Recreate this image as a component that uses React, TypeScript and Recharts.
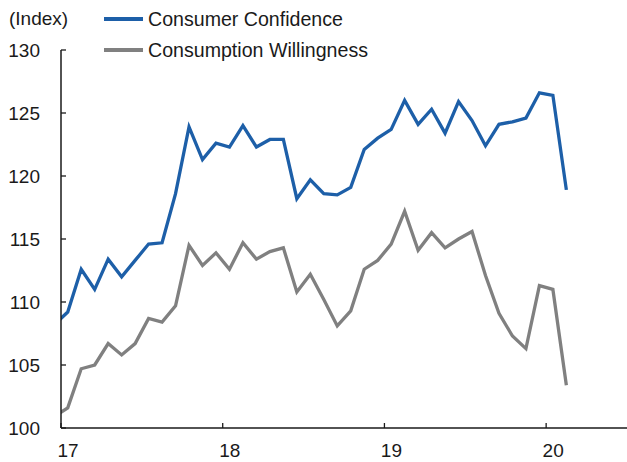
import { LineChart, Line, XAxis, YAxis, Legend } from "recharts";

const months = [
  "2016-12",
  "2017-01", "2017-02", "2017-03", "2017-04", "2017-05", "2017-06",
  "2017-07", "2017-08", "2017-09", "2017-10", "2017-11", "2017-12",
  "2018-01", "2018-02", "2018-03", "2018-04", "2018-05", "2018-06",
  "2018-07", "2018-08", "2018-09", "2018-10", "2018-11", "2018-12",
  "2019-01", "2019-02", "2019-03", "2019-04", "2019-05", "2019-06",
  "2019-07", "2019-08", "2019-09", "2019-10", "2019-11", "2019-12",
  "2020-01", "2020-02",
];

const consumerConfidence = [
  108.2,
  109.2, 112.6, 111.0, 113.4, 112.0, 113.3, 114.6, 114.7, 118.6, 123.9, 121.3, 122.6,
  122.3, 124.0, 122.3, 122.9, 122.9, 118.2, 119.7, 118.6, 118.5, 119.1, 122.1, 123.0,
  123.7, 126.0, 124.1, 125.3, 123.4, 125.9, 124.4, 122.4, 124.1, 124.3, 124.6, 126.6,
  126.4, 118.9,
];

const consumptionWillingness = [
  100.9,
  101.6, 104.7, 105.0, 106.7, 105.8, 106.7, 108.7, 108.4, 109.7, 114.5, 112.9, 113.9,
  112.6, 114.7, 113.4, 114.0, 114.3, 110.8, 112.2, 110.2, 108.1, 109.3, 112.6, 113.3,
  114.6, 117.2, 114.1, 115.5, 114.3, 115.0, 115.6, 112.1, 109.1, 107.3, 106.3, 111.3,
  111.0, 103.4,
];

const yearTicks = [17, 18, 19, 20];
const valueTicks = [100, 105, 110, 115, 120, 125, 130];

const seriesNames = ["Consumer Confidence", "Consumption Willingness"];
const seriesColors = ["#1d5fa8", "#808080"];

// x position: two-digit year + mid-month fraction
const data = months.map((m, i) => {
  const [y, mo] = m.split("-").map(Number);
  return {
    t: (y - 2000) + (mo - 0.5) / 12,
    cc: consumerConfidence[i],
    cw: consumptionWillingness[i],
  };
});

const FONT = "'Liberation Sans', Arial, sans-serif";
const INK = "#1a1a1a";

const YTick = (props: any) => {
  const { x, y, payload } = props;
  return (
    <g>
      <line x1={x} x2={x + 5} y1={y} y2={y} stroke={INK} strokeWidth={1.3} />
      <text x={x - 21} y={y + 7} textAnchor="end" fontSize={19} fontFamily={FONT} fill={INK}>
        {payload.value}
      </text>
    </g>
  );
};

const XTick = (props: any) => {
  const { x, y, payload } = props;
  return (
    <g>
      <line x1={x} x2={x} y1={y - 5} y2={y} stroke={INK} strokeWidth={1.3} />
      <text x={x + 7} y={y + 29} textAnchor="middle" fontSize={19} fontFamily={FONT} fill={INK}>
        {payload.value}
      </text>
    </g>
  );
};

const LegendBox = () => (
  <div style={{ position: "relative", width: 627, height: 70, fontFamily: FONT, fontSize: 19, color: INK }}>
    <span style={{ position: "absolute", left: 9, top: 8, lineHeight: "22px" }}>(Index)</span>
    {seriesNames.map((name, i) => (
      <div key={name} style={{ position: "absolute", left: 104, top: 8 + i * 31, height: 22, display: "flex", alignItems: "center" }}>
        <span style={{ display: "inline-block", width: 39, height: 3.5, background: seriesColors[i], marginRight: 5 }} />
        <span style={{ lineHeight: "22px", fontSize: 19.6, whiteSpace: "nowrap" }}>{name}</span>
      </div>
    ))}
  </div>
);

export default function App() {
  return (
    <div style={{ position: "absolute", left: 0, top: 0, width: 627, height: 462, background: "#fff" }}>
      <LineChart width={627} height={462} data={data} margin={{ top: 50, right: 0, bottom: 0, left: 0 }}>
        <XAxis
          dataKey="t"
          type="number"
          domain={[17, 20.5]}
          allowDataOverflow
          ticks={yearTicks}
          tick={<XTick />}
          tickLine={false}
          tickSize={0}
          tickMargin={0}
          height={34}
          axisLine={{ stroke: INK, strokeWidth: 1.5 }}
        />
        <YAxis
          type="number"
          domain={[100, 130]}
          allowDataOverflow
          ticks={valueTicks}
          tick={<YTick />}
          tickLine={false}
          tickSize={0}
          tickMargin={0}
          width={61}
          axisLine={{ stroke: INK, strokeWidth: 1.5 }}
        />
        <Legend
          layout="vertical"
          align="center"
          verticalAlign="middle"
          content={<LegendBox />}
          wrapperStyle={{ top: 0, left: 0, width: 627, height: 70 }}
        />
        <Line
          type="linear"
          dataKey="cw"
          name={seriesNames[1]}
          stroke={seriesColors[1]}
          strokeWidth={3.3}
          dot={false}
          isAnimationActive={false}
        />
        <Line
          type="linear"
          dataKey="cc"
          name={seriesNames[0]}
          stroke={seriesColors[0]}
          strokeWidth={3.3}
          dot={false}
          isAnimationActive={false}
        />
      </LineChart>
    </div>
  );
}
